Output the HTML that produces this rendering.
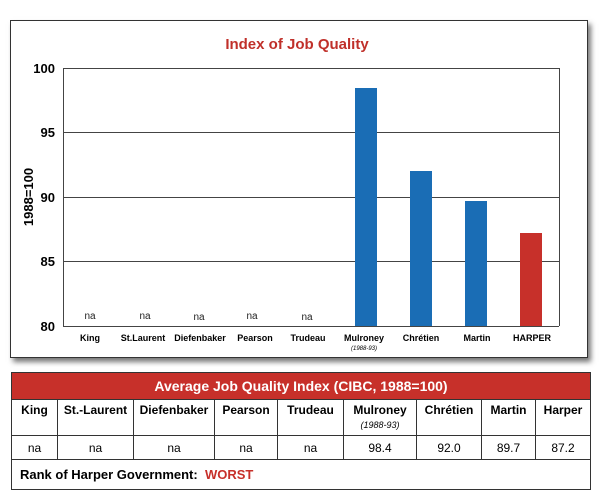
<!DOCTYPE html>
<html><head><meta charset="utf-8"><style>
body{margin:0;background:#fff;width:607px;height:503px;overflow:hidden;font-family:"Liberation Sans",sans-serif;}
.box{position:absolute;left:10px;top:20px;width:576px;height:336px;border:1px solid #333;box-shadow:3px 4px 5px #777;background:#fff;}
table{position:absolute;left:11px;top:372px;width:580px;border-collapse:collapse;font-size:12px;}
td{border:1px solid #333;text-align:center;padding:0;}
</style></head><body>
<div class="box"></div>
<svg style="position:absolute;left:0;top:0" width="607" height="360">
<text x="297" y="49" text-anchor="middle" font-size="15" font-weight="bold" fill="#c0302a" font-family="Liberation Sans">Index of Job Quality</text>
<g stroke="#444" stroke-width="1">
<line x1="63" y1="68.5" x2="559" y2="68.5"/><line x1="63" y1="132.5" x2="559" y2="132.5"/>
<line x1="63" y1="197.5" x2="559" y2="197.5"/><line x1="63" y1="261.5" x2="559" y2="261.5"/>
<line x1="63" y1="326.5" x2="559" y2="326.5"/><line x1="63.5" y1="68" x2="63.5" y2="326"/>
<line x1="559.5" y1="68" x2="559.5" y2="326"/>
</g>
<g font-size="13" font-weight="bold" text-anchor="end" font-family="Liberation Sans">
<text x="55" y="73">100</text><text x="55" y="137">95</text><text x="55" y="202">90</text><text x="55" y="266">85</text><text x="55" y="331">80</text>
</g>
<text transform="translate(33,197) rotate(-90)" text-anchor="middle" font-size="13" font-weight="bold">1988=100</text>
<rect x="355" y="88" width="22" height="238" fill="#1a6db5"/>
<rect x="410" y="171" width="22" height="155" fill="#1a6db5"/>
<rect x="465" y="201" width="22" height="125" fill="#1a6db5"/>
<rect x="520" y="233" width="22" height="93" fill="#c7302a"/>
<g font-size="10" text-anchor="middle" fill="#222">
<text x="90" y="319">na</text><text x="145" y="319">na</text><text x="199" y="320">na</text><text x="252" y="319">na</text><text x="307" y="320">na</text>
</g>
<g font-size="9" font-weight="bold" text-anchor="middle">
<text x="90" y="341">King</text><text x="143" y="341">St.Laurent</text><text x="200" y="341">Diefenbaker</text><text x="255" y="341">Pearson</text><text x="308" y="341">Trudeau</text><text x="364" y="341">Mulroney</text><text x="421" y="341">Chrétien</text><text x="477" y="341">Martin</text><text x="532" y="341">HARPER</text>
</g>
<text x="364" y="350" font-size="6" font-style="italic" text-anchor="middle">(1988-93)</text>
</svg>
<table>
<tr style="height:27px"><td colspan="9" style="background:#c7302a;color:#fff;font-weight:bold;font-size:14px">Average Job Quality Index (CIBC, 1988=100)</td></tr>
<tr style="height:36px;font-weight:bold;vertical-align:top">
<td style="width:45px;padding-top:3px">King</td><td style="width:75px;padding-top:3px">St.-Laurent</td><td style="width:80px;padding-top:3px">Diefenbaker</td><td style="width:62px;padding-top:3px">Pearson</td><td style="width:65px;padding-top:3px">Trudeau</td><td style="width:72px;padding-top:3px">Mulroney<br><span style="font-weight:normal;font-style:italic;font-size:9px">(1988-93)</span></td><td style="width:64px;padding-top:3px">Chrétien</td><td style="width:53px;padding-top:3px">Martin</td><td style="padding-top:3px">Harper</td></tr>
<tr style="height:24px"><td>na</td><td>na</td><td>na</td><td>na</td><td>na</td><td>98.4</td><td>92.0</td><td>89.7</td><td>87.2</td></tr>
<tr style="height:30px"><td colspan="9" style="text-align:left;padding-left:8px;font-weight:bold;font-size:13px">Rank of Harper Government:&nbsp; <span style="color:#c7302a">WORST</span></td></tr>
</table>
</body></html>
